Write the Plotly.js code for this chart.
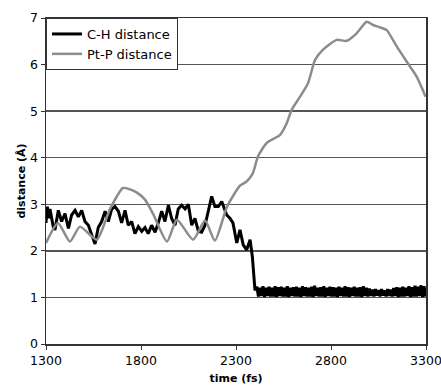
<!DOCTYPE html>
<html>
<head>
<meta charset="utf-8">
<script src="https://cdn.plot.ly/plotly-3.0.1.min.js"></script>
<style>html,body{margin:0;padding:0;background:#fff;}#chart{width:441px;height:388px;}</style>
</head>
<body>
<div id="chart"></div>
<script>
// C-H distance, before the drop
const chTimeEarly = [1300,1307,1315,1321,1338,1347,1365,1382,1400,1418,1435,1453,1470,1488,1505,1523,1540,1558,1575,1593,1611,1628,1646,1663,1681,1698,1716,1733,1751,1768,1786,1804,1821,1838,1856,1874,1891,1909,1926,1944,1961,1979,1996,2014,2032,2049,2067,2084,2102,2119,2137,2154,2172,2189,2207,2225,2251,2268,2284,2304,2321,2338,2356,2374,2386,2400];
const chDistEarly = [2.6,2.95,2.7,2.9,2.52,2.45,2.87,2.63,2.8,2.48,2.77,2.87,2.73,2.87,2.63,2.55,2.35,2.15,2.5,2.63,2.85,2.63,2.9,2.95,2.85,2.6,2.87,2.55,2.63,2.37,2.52,2.42,2.5,2.37,2.55,2.4,2.6,2.85,2.63,2.98,2.7,2.55,2.9,2.98,2.9,3.0,2.55,2.7,2.42,2.4,2.55,2.85,3.17,2.95,2.95,3.06,2.77,2.7,2.6,2.17,2.45,2.13,2.02,2.24,1.88,1.15];
// C-H distance, dense oscillating band after the drop
const chTimeBand = [2410,2418,2426,2434,2442,2450,2458,2466,2474,2482,2490,2498,2506,2514,2522,2530,2538,2546,2554,2562,2570,2578,2586,2594,2602,2610,2618,2626,2634,2642,2650,2658,2666,2674,2682,2690,2698,2706,2714,2722,2730,2738,2746,2754,2762,2770,2778,2786,2794,2802,2810,2818,2826,2834,2842,2850,2858,2866,2874,2882,2890,2898,2906,2914,2922,2930,2938,2946,2954,2962,2970,2978,2986,2994,3002,3010,3018,3026,3034,3042,3050,3058,3066,3074,3082,3090,3098,3106,3114,3122,3130,3138,3146,3154,3162,3170,3178,3186,3194,3202,3210,3218,3226,3234,3242,3250,3258,3266,3274,3282,3290,3298];
const chDistBand = [1.23,1.02,1.21,1.03,1.24,1.01,1.21,1.03,1.23,1.02,
1.21,1.02,1.24,1.01,1.22,1.03,1.23,1.02,1.21,1.02,
1.24,1.01,1.21,1.03,1.22,1.02,1.23,1.02,1.21,1.01,
1.24,1.03,1.22,1.02,1.21,1.02,1.23,1.01,1.25,1.03,
1.21,1.02,1.22,1.02,1.24,1.01,1.21,1.03,1.23,1.02,
1.22,1.02,1.21,1.01,1.23,1.03,1.21,1.02,1.24,1.02,
1.22,1.01,1.21,1.03,1.23,1.02,1.21,1.02,1.22,1.01,
1.24,1.03,1.21,1.02,1.19,1.03,1.17,1.02,1.18,1.04,
1.16,1.02,1.18,1.04,1.15,1.02,1.18,1.03,1.17,1.02,
1.20,1.03,1.22,1.01,1.21,1.02,1.23,1.02,1.21,1.03,
1.24,1.01,1.22,1.02,1.25,1.02,1.23,1.03,1.26,1.01,
1.24,1.02];
// Pt-P distance
const ptTime = [1300,1363,1426,1479,1567,1637,1705,1742,1779,1821,1863,1937,1989,2074,2137,2189,2253,2321,2356,2389,2416,2462,2532,2567,2593,2637,2679,2716,2758,2830,2883,2935,2988,3021,3058,3093,3146,3199,3251,3298];
const ptDist = [2.17,2.6,2.2,2.52,2.24,2.9,3.35,3.32,3.25,3.1,2.8,2.2,2.67,2.24,2.65,2.22,2.95,3.4,3.49,3.67,4.03,4.32,4.49,4.74,5.03,5.31,5.6,6.1,6.32,6.53,6.51,6.67,6.92,6.85,6.8,6.74,6.39,6.06,5.74,5.31];
const xTicks = [1300,1800,2300,2800,3300];
const yTicks = [0,1,2,3,4,5,6,7];

const font = 'DejaVu Sans, Verdana, sans-serif';
const traces = [
  {x: chTimeEarly.concat(chTimeBand), y: chDistEarly.concat(chDistBand), type:'scatter', mode:'lines',
   name:'C-H distance', line:{color:'#000000', width:3, simplify:false}},
  {x: ptTime, y: ptDist, type:'scatter', mode:'lines', line:{color:'#8c8c8c', width:2.5, shape:'spline', smoothing:0.6, simplify:false},
   name:'Pt-P distance'}
];
const layout = {
  width:441, height:388,
  margin:{l:46, r:15, t:18, b:44},
  paper_bgcolor:'#fff', plot_bgcolor:'#fff',
  font:{family:font, size:12.5, color:'#000'},
  showlegend:true,
  legend:{x:0, y:1, xanchor:'left', yanchor:'top', bgcolor:'#fff', bordercolor:'#333', borderwidth:1,
          font:{family:font, size:13, color:'#000'}, tracegroupgap:0, itemwidth:30},
  xaxis:{range:[1300,3300], tickvals:xTicks, ticktext:xTicks.map(String), showgrid:false, zeroline:false,
         showline:true, linecolor:'#333', linewidth:1.5, mirror:true, ticks:'outside', ticklen:4, tickcolor:'#333',
         ticklabeloverflow:'allow',
         automargin:false, title:{text:'<b>time (fs)</b>', font:{family:font, size:11}, standoff:8}},
  yaxis:{range:[0,7], tickvals:yTicks, showgrid:true, gridcolor:'#555', gridwidth:1.5, zeroline:false,
         showline:true, linecolor:'#333', linewidth:1.5, mirror:true, ticks:'outside', ticklen:4, tickcolor:'#333',
         automargin:false, title:{text:'<b>distance (Å)</b>', font:{family:font, size:11}, standoff:2}}
};
Plotly.newPlot('chart', traces, layout, {displayModeBar:false, staticPlot:true});
</script>
</body>
</html>
